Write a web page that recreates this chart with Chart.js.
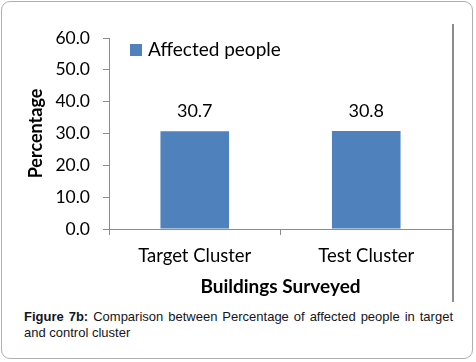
<!DOCTYPE html>
<html>
<head>
<meta charset="utf-8">
<script src="https://cdn.jsdelivr.net/npm/chart.js@4/dist/chart.umd.min.js"></script>
<style>
  html, body { margin: 0; padding: 0; background: #fff; }
  body { width: 476px; height: 362px; position: relative; overflow: hidden; }
  #frame {
    position: absolute; left: 1px; top: 1px; width: 472px; height: 358px;
    border: 1px solid #b0b0b0; border-radius: 9px; box-sizing: border-box;
  }
  #edge {
    position: absolute; left: 452px; top: 24px; width: 2px; height: 278px; background: #8c8c8c;
  }
  #wrap { position: absolute; left: 0; top: 0; width: 476px; height: 305px; }
  #caption {
    position: absolute; left: 24px; top: 309px; width: 429px;
    font-family: "Liberation Sans", Arial, sans-serif; font-size: 13px; line-height: 16px;
    color: #141423; text-align: justify; text-align-last: left;
  }
</style>
</head>
<body>
<div id="frame"></div>
<div id="wrap"><canvas id="chart"></canvas></div>
<div id="edge"></div>
<div id="caption"><b>Figure 7b:</b> Comparison between Percentage of affected people in target and control cluster</div>
<script>
const categories = ["Target Cluster", "Test Cluster"];
const affectedPeople = [30.7, 30.8];
const seriesLabel = "Affected people";
const yTicks = { min: 0, max: 60, step: 10 };
const xTitle = "Buildings Surveyed";
const yTitle = "Percentage";

const fontFamily = "Lato, 'Open Sans', sans-serif";
const barColor = "#4f81bd";
const axisColor = "#8c8c8c";

// value labels above the bars
const valueLabels = {
    id: "valueLabels",
    afterDatasetsDraw(chart) {
        const ctx = chart.ctx;
        ctx.save();
        ctx.font = "18px " + fontFamily;
        ctx.fillStyle = "#000";
        ctx.textAlign = "center";
        ctx.textBaseline = "alphabetic";
        chart.getDatasetMeta(0).data.forEach((bar, i) => {
            ctx.fillText(affectedPeople[i].toFixed(1), bar.x, bar.y - 14);
        });
        ctx.restore();
    }
};

// legend inside the plot area, top left
const innerLegend = {
    id: "innerLegend",
    afterDraw(chart) {
        const ctx = chart.ctx;
        const area = chart.chartArea;
        const x = area.left + 21;
        const y = area.top + 6;
        ctx.save();
        ctx.fillStyle = barColor;
        ctx.fillRect(x, y, 12, 12);
        ctx.font = "19px " + fontFamily;
        ctx.fillStyle = "#000";
        ctx.textBaseline = "middle";
        ctx.fillText(chart.data.datasets[0].label, x + 18, y + 6);
        ctx.restore();
    }
};

const ctx = document.getElementById("chart").getContext("2d");
new Chart(ctx, {
    type: "bar",
    data: {
        labels: categories,
        datasets: [{
            label: seriesLabel,
            data: affectedPeople,
            backgroundColor: barColor,
            barPercentage: 0.4,
            categoryPercentage: 1
        }]
    },
    options: {
        responsive: true,
        maintainAspectRatio: false,
        animation: false,
        layout: { padding: { left: 0, top: 38, right: 24, bottom: 0 } },
        plugins: {
            legend: { display: false },
            tooltip: { enabled: false }
        },
        scales: {
            x: {
                afterFit(scale) { scale.height = 76; },
                grid: { drawOnChartArea: false, drawTicks: true, tickLength: 6, color: axisColor, offset: true },
                border: { color: axisColor, width: 1 },
                ticks: { color: "#000", padding: 10, font: { family: fontFamily, size: 18.5 } },
                title: {
                    display: true, text: xTitle, color: "#000",
                    font: { family: fontFamily, size: 19, weight: "bold" },
                    padding: { top: 0, bottom: 7 }
                }
            },
            y: {
                min: yTicks.min,
                max: yTicks.max,
                afterFit(scale) { scale.width = 109; },
                grid: { drawOnChartArea: false, drawTicks: true, tickLength: 6, color: axisColor },
                border: { color: axisColor, width: 1 },
                ticks: {
                    stepSize: yTicks.step, color: "#000", padding: 13,
                    font: { family: fontFamily, size: 17.5 },
                    callback: (v) => Number(v).toFixed(1)
                },
                title: {
                    display: true, text: yTitle, color: "#000",
                    font: { family: fontFamily, size: 18, weight: "bold" },
                    padding: { top: 25, bottom: 0 }
                }
            }
        }
    },
    plugins: [valueLabels, innerLegend]
});
</script>
</body>
</html>
